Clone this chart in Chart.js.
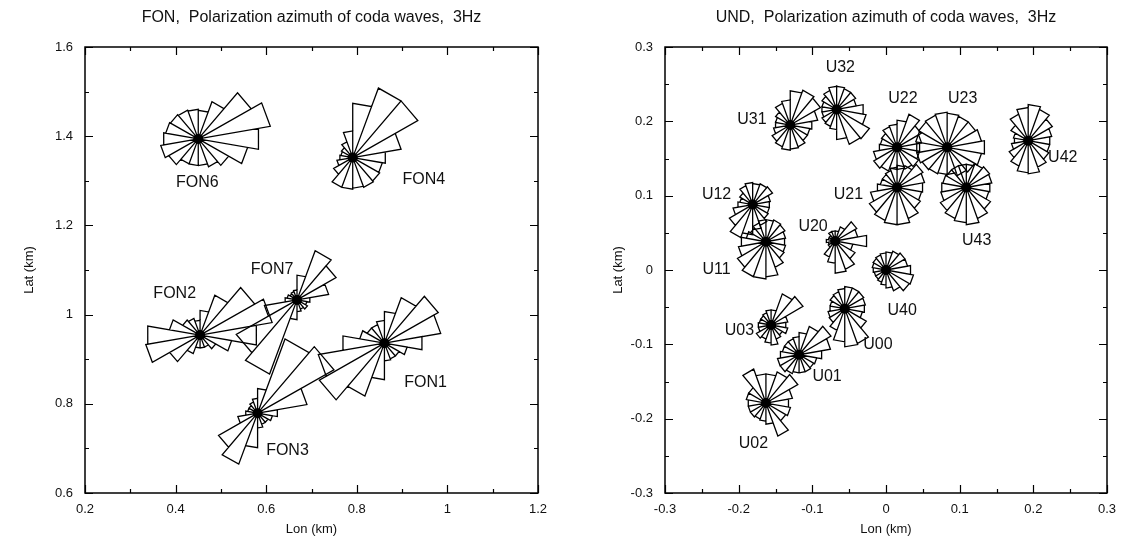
<!DOCTYPE html>
<html>
<head>
<meta charset="utf-8">
<script src="https://cdn.jsdelivr.net/npm/chart.js@4.4.1/dist/chart.umd.min.js"></script>
<style>
  body { margin: 0; background: #fff; }
  #wrap { position: relative; width: 1127px; height: 545px; }
  #chart-fon { position: absolute; left: 0; top: 0; }
  #chart-und { position: absolute; left: 563px; top: 0; }
</style>
</head>
<body>
<div id="wrap">
  <canvas id="chart-fon" width="563" height="545"></canvas>
  <canvas id="chart-und" width="564" height="545"></canvas>
</div>
<script>
// azimuth bins (degrees clockwise from north), 20 deg wide
const BIN_START = [0, 20, 40, 60, 80, 100, 120, 140, 160, 180, 200, 220, 240, 260, 280, 300, 320, 340];
const BIN_WIDTH = 20;

// ---- FON array ----
const FON_NAMES = ["FON1", "FON2", "FON3", "FON4", "FON6", "FON7"];
const FON_LON = [0.861, 0.454, 0.581, 0.791, 0.450, 0.668];
const FON_LAT = [0.936, 0.954, 0.779, 1.352, 1.394, 1.033];
const FON_LABEL_LON = [0.952, 0.398, 0.647, 0.948, 0.448, 0.613];
const FON_LABEL_LAT = [0.847, 1.046, 0.696, 1.302, 1.295, 1.100];

const ROSE_FON1 = [32, 49, 62, 57, 38, 23, 17, 17, 18, 37, 57, 75, 67, 42, 25, 20, 20, 23];
const ROSE_FON2 = [25, 43, 63, 73, 57, 32, 18, 13, 13, 13, 20, 35, 55, 53, 31, 20, 18, 15];
const ROSE_FON3 = [25, 80, 88, 50, 20, 15, 12, 12, 15, 35, 55, 45, 20, 12, 10, 10, 12, 15];
const ROSE_FON4 = [55, 75, 75, 49, 33, 30, 31, 32, 31, 32, 32, 22, 16, 13, 12, 13, 17, 27];
const ROSE_FON6 = [29, 40, 61, 73, 61, 50, 35, 30, 27, 27, 27, 34, 38, 35, 33, 32, 31, 30];
const ROSE_FON7 = [25, 53, 45, 32, 13, 10, 12, 10, 12, 20, 80, 70, 33, 12, 10, 8, 9, 10];
const FON_ROSES = [ROSE_FON1, ROSE_FON2, ROSE_FON3, ROSE_FON4, ROSE_FON6, ROSE_FON7];

const FON_X_TICKS = [0.2, 0.4, 0.6, 0.8, 1.0, 1.2];
const FON_X_LABELS = ["0.2", "0.4", "0.6", "0.8", "1", "1.2"];
const FON_X_MINOR = [0.3, 0.5, 0.7, 0.9, 1.1];
const FON_Y_TICKS = [0.6, 0.8, 1.0, 1.2, 1.4, 1.6];
const FON_Y_LABELS = ["0.6", "0.8", "1", "1.2", "1.4", "1.6"];
const FON_Y_MINOR = [0.7, 0.9, 1.1, 1.3, 1.5];

// ---- UND array ----
const UND_NAMES = ["U00", "U01", "U02", "U03", "U11", "U12", "U20", "U21", "U22", "U23", "U31", "U32", "U40", "U42", "U43"];
const UND_LON = [-0.056, -0.118, -0.163, -0.156, -0.163, -0.181, -0.069, 0.015, 0.015, 0.083, -0.130, -0.067, 0.000, 0.193, 0.109];
const UND_LAT = [-0.052, -0.114, -0.179, -0.074, 0.038, 0.088, 0.039, 0.111, 0.165, 0.165, 0.195, 0.216, 0.000, 0.174, 0.111];
const UND_LABEL_LON = [-0.011, -0.080, -0.180, -0.199, -0.230, -0.230, -0.099, -0.051, 0.023, 0.104, -0.182, -0.062, 0.022, 0.240, 0.123];
const UND_LABEL_LAT = [-0.101, -0.143, -0.234, -0.081, 0.000, 0.101, 0.058, 0.101, 0.231, 0.231, 0.202, 0.272, -0.054, 0.151, 0.040];

const ROSE_U00 = [22, 22, 22, 21, 20, 18, 25, 37, 38, 33, 23, 18, 17, 15, 15, 17, 18, 20];
const ROSE_U01 = [22, 30, 37, 32, 23, 18, 17, 18, 18, 18, 20, 22, 22, 19, 17, 17, 17, 18];
const ROSE_U02 = [29, 33, 37, 27, 23, 25, 23, 35, 21, 18, 17, 18, 18, 18, 20, 20, 36, 29];
const ROSE_U03 = [15, 33, 37, 17, 15, 17, 13, 15, 20, 18, 15, 17, 13, 13, 12, 12, 13, 15];
const ROSE_U11 = [22, 23, 22, 20, 19, 20, 21, 27, 35, 37, 37, 33, 28, 25, 20, 18, 20, 22];
const ROSE_U12 = [21, 22, 23, 18, 17, 17, 18, 22, 25, 30, 35, 27, 20, 15, 13, 15, 20, 22];
const ROSE_U20 = [10, 15, 25, 23, 32, 18, 23, 30, 32, 22, 17, 8, 7, 9, 7, 7, 10, 10];
const ROSE_U21 = [22, 23, 30, 28, 26, 25, 27, 33, 37, 37, 35, 32, 27, 20, 17, 17, 18, 20];
const ROSE_U22 = [27, 35, 28, 25, 23, 23, 25, 23, 22, 22, 25, 27, 24, 18, 17, 18, 22, 23];
const ROSE_U23 = [34, 33, 33, 35, 38, 35, 32, 30, 27, 27, 28, 29, 31, 31, 32, 33, 34, 35];
const ROSE_U31 = [34, 37, 35, 28, 22, 20, 20, 23, 24, 25, 23, 21, 17, 15, 15, 17, 23, 25];
const ROSE_U32 = [23, 22, 22, 20, 27, 30, 38, 37, 30, 20, 18, 17, 15, 15, 15, 17, 20, 23];
const ROSE_U40 = [18, 20, 22, 22, 25, 28, 27, 22, 18, 15, 13, 12, 12, 13, 14, 15, 16, 17];
const ROSE_U42 = [36, 33, 28, 24, 22, 22, 24, 28, 33, 32, 27, 22, 17, 14, 15, 20, 28, 33];
const ROSE_U43 = [23, 25, 27, 26, 24, 23, 28, 33, 37, 35, 33, 30, 26, 25, 24, 23, 23, 23];
const UND_ROSES = [ROSE_U00, ROSE_U01, ROSE_U02, ROSE_U03, ROSE_U11, ROSE_U12, ROSE_U20, ROSE_U21,
  ROSE_U22, ROSE_U23, ROSE_U31, ROSE_U32, ROSE_U40, ROSE_U42, ROSE_U43];

const UND_X_TICKS = [-0.3, -0.2, -0.1, 0, 0.1, 0.2, 0.3];
const UND_X_LABELS = ["-0.3", "-0.2", "-0.1", "0", "0.1", "0.2", "0.3"];
const UND_X_MINOR = [-0.25, -0.15, -0.05, 0.05, 0.15, 0.25];
const UND_Y_TICKS = [-0.3, -0.2, -0.1, 0, 0.1, 0.2, 0.3];
const UND_Y_LABELS = ["-0.3", "-0.2", "-0.1", "0", "0.1", "0.2", "0.3"];
const UND_Y_MINOR = [-0.25, -0.15, -0.05, 0.05, 0.15, 0.25];

// km of petal length per rose unit
const FON_ROSE_UNIT = 1 / 452;
const UND_ROSE_UNIT = 1 / 740;

const FONT = "'Liberation Sans', Arial, Helvetica, sans-serif";
const INK = "#111";

function petalPoints(lon, lat, rose, unit) {
  const pts = [];
  rose.forEach((v, i) => {
    const r = v * unit;
    const a1 = BIN_START[i] * Math.PI / 180;
    const a2 = (BIN_START[i] + BIN_WIDTH) * Math.PI / 180;
    pts.push({ x: lon, y: lat });
    pts.push({ x: lon + r * Math.sin(a1), y: lat + r * Math.cos(a1) });
    pts.push({ x: lon + r * Math.sin(a2), y: lat + r * Math.cos(a2) });
  });
  pts.push({ x: lon, y: lat });
  return pts;
}

const framePlugin = {
  id: "frameTicks",
  afterDatasetsDraw(chart, args, opts) {
    const { ctx, chartArea: a, scales } = chart;
    const sx = scales.x, sy = scales.y;
    ctx.save();
    // station labels
    ctx.fillStyle = INK;
    ctx.font = "16px " + FONT;
    ctx.textAlign = "center";
    ctx.textBaseline = "middle";
    opts.names.forEach((n, i) => {
      ctx.fillText(n, sx.getPixelForValue(opts.labelLon[i]), sy.getPixelForValue(opts.labelLat[i]));
    });
    // inward ticks on all sides
    ctx.strokeStyle = "#000";
    ctx.lineWidth = 1.2;
    ctx.beginPath();
    const tickX = (vals, len) => vals.forEach((v) => {
      const px = Math.round(sx.getPixelForValue(v)) + 0.5;
      ctx.moveTo(px, a.bottom); ctx.lineTo(px, a.bottom - len);
      ctx.moveTo(px, a.top); ctx.lineTo(px, a.top + len);
    });
    const tickY = (vals, len) => vals.forEach((v) => {
      const py = Math.round(sy.getPixelForValue(v)) + 0.5;
      ctx.moveTo(a.left, py); ctx.lineTo(a.left + len, py);
      ctx.moveTo(a.right, py); ctx.lineTo(a.right - len, py);
    });
    tickX(opts.xMajor, 8); tickX(opts.xMinor, 4);
    tickY(opts.yMajor, 8); tickY(opts.yMinor, 4);
    ctx.stroke();
    ctx.lineWidth = 1.5;
    ctx.strokeRect(a.left, a.top, a.right - a.left, a.bottom - a.top);
    ctx.restore();
  }
};

function buildChart(id, cfg) {
  const datasets = [];
  cfg.names.forEach((n, i) => {
    datasets.push({
      label: n,
      data: petalPoints(cfg.lon[i], cfg.lat[i], cfg.roses[i], cfg.unit),
      showLine: true,
      borderColor: "#000",
      borderWidth: 1.3,
      pointRadius: 0,
      fill: false,
      tension: 0
    });
  });
  datasets.push({
    label: "stations",
    data: cfg.lon.map((x, i) => ({ x, y: cfg.lat[i] })),
    pointRadius: 5,
    pointBackgroundColor: "#000",
    pointBorderWidth: 0,
    showLine: false
  });

  return new Chart(document.getElementById(id), {
    type: "scatter",
    data: { datasets },
    options: {
      responsive: false,
      animation: false,
      events: [],
      layout: { padding: { left: 0, right: cfg.padRight, top: 0, bottom: 0 } },
      plugins: {
        legend: { display: false },
        tooltip: { enabled: false },
        title: {
          display: true,
          text: cfg.title,
          fullSize: false,
          color: INK,
          font: { family: FONT, size: 16, weight: "normal" },
          padding: { top: 8, bottom: 19.8 }
        },
        frameTicks: {
          names: cfg.names, labelLon: cfg.labelLon, labelLat: cfg.labelLat,
          xMajor: cfg.xTicks, xMinor: cfg.xMinor, yMajor: cfg.yTicks, yMinor: cfg.yMinor
        }
      },
      scales: {
        x: {
          type: "linear",
          min: cfg.xTicks[0],
          max: cfg.xTicks[cfg.xTicks.length - 1],
          afterBuildTicks: (s) => { s.ticks = cfg.xTicks.map((v) => ({ value: v })); },
          afterFit: (s) => { s.height = 52; },
          grid: { display: false, drawTicks: false },
          border: { display: false },
          ticks: {
            padding: 9,
            color: INK,
            font: { family: FONT, size: 13 },
            callback: (v, i) => cfg.xLabels[i]
          },
          title: {
            display: true, text: "Lon (km)", color: INK,
            font: { family: FONT, size: 13 },
            padding: { top: 0, bottom: 8 }
          }
        },
        y: {
          type: "linear",
          min: cfg.yTicks[0],
          max: cfg.yTicks[cfg.yTicks.length - 1],
          afterBuildTicks: (s) => { s.ticks = cfg.yTicks.map((v) => ({ value: v })); },
          afterFit: (s) => { s.width = cfg.yAxisWidth; },
          grid: { display: false, drawTicks: false },
          border: { display: false },
          ticks: {
            padding: 12,
            color: INK,
            font: { family: FONT, size: 13 },
            callback: (v, i) => cfg.yLabels[i]
          },
          title: {
            display: true, text: "Lat (km)", color: INK,
            font: { family: FONT, size: 13 },
            padding: { top: cfg.yTitlePad, bottom: 0 }
          }
        }
      }
    },
    plugins: [framePlugin]
  });
}

buildChart("chart-fon", {
  title: "FON,  Polarization azimuth of coda waves,  3Hz",
  names: FON_NAMES, lon: FON_LON, lat: FON_LAT, labelLon: FON_LABEL_LON, labelLat: FON_LABEL_LAT,
  roses: FON_ROSES, unit: FON_ROSE_UNIT,
  xTicks: FON_X_TICKS, xLabels: FON_X_LABELS, xMinor: FON_X_MINOR,
  yTicks: FON_Y_TICKS, yLabels: FON_Y_LABELS, yMinor: FON_Y_MINOR,
  yAxisWidth: 85, padRight: 25, yTitlePad: 22
});

buildChart("chart-und", {
  title: "UND,  Polarization azimuth of coda waves,  3Hz",
  names: UND_NAMES, lon: UND_LON, lat: UND_LAT, labelLon: UND_LABEL_LON, labelLat: UND_LABEL_LAT,
  roses: UND_ROSES, unit: UND_ROSE_UNIT,
  xTicks: UND_X_TICKS, xLabels: UND_X_LABELS, xMinor: UND_X_MINOR,
  yTicks: UND_Y_TICKS, yLabels: UND_Y_LABELS, yMinor: UND_Y_MINOR,
  yAxisWidth: 102, padRight: 20, yTitlePad: 48
});
</script>
</body>
</html>
